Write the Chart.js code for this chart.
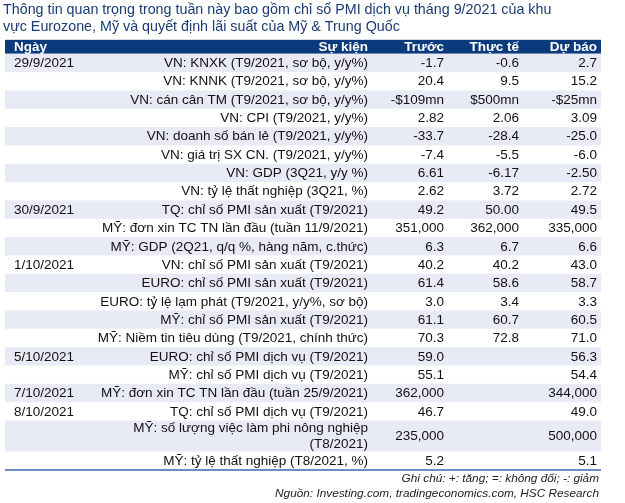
<!DOCTYPE html>
<html>
<head>
<meta charset="utf-8">
<script src="https://cdn.jsdelivr.net/npm/chart.js@4.4.0/dist/chart.umd.min.js"></script>
<style>
  html, body { margin: 0; padding: 0; background: #fff; }
  #wrap { width: 625px; height: 503px; }
</style>
</head>
<body>
<div id="wrap"><canvas id="table"></canvas></div>
<script>
const titleLines = [
    'Thông tin quan trọng trong tuần này bao gồm chỉ số PMI dịch vụ tháng 9/2021 của khu',
    'vực Eurozone, Mỹ và quyết định lãi suất của Mỹ & Trung Quốc',
];
const headers = ['Ngày', 'Sự kiện', 'Trước', 'Thực tế', 'Dự báo'];
const dates = [
    '29/9/2021', '', '', '', '', '', '', '',
    '30/9/2021', '', '',
    '1/10/2021', '', '', '', '',
    '5/10/2021', '',
    '7/10/2021',
    '8/10/2021', '', '',
];
const events = [
    'VN: KNXK (T9/2021, sơ bộ, y/y%)',
    'VN: KNNK (T9/2021, sơ bộ, y/y%)',
    'VN: cán cân TM (T9/2021, sơ bộ, y/y%)',
    'VN: CPI (T9/2021, y/y%)',
    'VN: doanh số bán lẻ (T9/2021, y/y%)',
    'VN: giá trị SX CN. (T9/2021, y/y%)',
    'VN: GDP (3Q21, y/y %)',
    'VN: tỷ lệ thất nghiệp (3Q21, %)',
    'TQ: chỉ số PMI sản xuất (T9/2021)',
    'MỸ: đơn xin TC TN lần đầu (tuần 11/9/2021)',
    'MỸ: GDP (2Q21, q/q %, hàng năm, c.thức)',
    'VN: chỉ số PMI sản xuất (T9/2021)',
    'EURO: chỉ số PMI sản xuất (T9/2021)',
    'EURO: tỷ lệ lạm phát (T9/2021, y/y%, sơ bộ)',
    'MỸ: chỉ số PMI sản xuất (T9/2021)',
    'MỸ: Niềm tin tiêu dùng (T9/2021, chính thức)',
    'EURO: chỉ số PMI dịch vụ (T9/2021)',
    'MỸ: chỉ số PMI dịch vụ (T9/2021)',
    'MỸ: đơn xin TC TN lần đầu (tuần 25/9/2021)',
    'TQ: chỉ số PMI dịch vụ (T9/2021)',
    'MỸ: số lượng việc làm phi nông nghiệp\n(T8/2021)',
    'MỸ: tỷ lệ thất nghiệp (T8/2021, %)',
];
const prior = [
    '-1.7', '20.4', '-$109mn', '2.82', '-33.7', '-7.4', '6.61', '2.62',
    '49.2', '351,000', '6.3',
    '40.2', '61.4', '3.0', '61.1', '70.3',
    '59.0', '55.1',
    '362,000',
    '46.7', '235,000', '5.2',
];
const actual = [
    '-0.6', '9.5', '$500mn', '2.06', '-28.4', '-5.5', '-6.17', '3.72',
    '50.00', '362,000', '6.7',
    '40.2', '58.6', '3.4', '60.7', '72.8',
    '', '',
    '',
    '', '', '',
];
const forecast = [
    '2.7', '15.2', '-$25mn', '3.09', '-25.0', '-6.0', '-2.50', '2.72',
    '49.5', '335,000', '6.6',
    '43.0', '58.7', '3.3', '60.5', '71.0',
    '56.3', '54.4',
    '344,000',
    '49.0', '500,000', '5.1',
];
const notes = [
    'Ghi chú: +: tăng; =: không đổi; -: giảm',
    'Nguồn: Investing.com, tradingeconomics.com, HSC Research',
];

// layout, in scale units
const FONT = '"Liberation Sans", Arial, sans-serif';
const headerH = 0.76;
const extraLine = 0.7;
const footerH = 1.8;
const tableW = 596;
const colDate = 9;
const colRight = [363, 439, 514, 592];

const rowH = events.map(e => 1 + extraLine * (e.split('\n').length - 1));
const rowTop = [];
rowH.reduce((acc, h) => { rowTop.push(acc); return acc + h; }, headerH);
const tableH = headerH + rowH.reduce((a, b) => a + b, 0);

const tablePlugin = {
    id: 'tableCells',
    beforeDatasetsDraw(chart) {
        const { ctx, scales: { x, y } } = chart;
        const px = v => x.getPixelForValue(v);
        const py = v => y.getPixelForValue(v);
        const left = px(0), right = px(tableW);
        ctx.save();

        // header band
        ctx.fillStyle = '#0B3B7C';
        ctx.fillRect(left, py(0), right - left, py(headerH) - py(0));

        // zebra rows
        rowH.forEach((h, i) => {
            if (i % 2 === 0) {
                ctx.fillStyle = '#E8EBF5';
                ctx.fillRect(left, py(rowTop[i]), right - left, py(rowTop[i] + h) - py(rowTop[i]));
            }
        });

        ctx.textBaseline = 'middle';
        ctx.font = 'bold 13.5px ' + FONT;
        ctx.fillStyle = '#ffffff';
        const hy = py(headerH / 2) + 0.5;
        ctx.textAlign = 'left';
        ctx.fillText(headers[0], px(colDate), hy);
        ctx.textAlign = 'right';
        headers.slice(1).forEach((t, j) => ctx.fillText(t, px(colRight[j]), hy));

        ctx.font = '13.5px ' + FONT;
        ctx.fillStyle = '#111111';
        events.forEach((ev, i) => {
            const cy = py(rowTop[i] + rowH[i] / 2) + 0.5;
            ctx.textAlign = 'left';
            ctx.fillText(dates[i], px(colDate), cy);
            ctx.textAlign = 'right';
            const lines = ev.split('\n');
            const gap = py(0.87) - py(0);
            lines.forEach((ln, k) => {
                ctx.fillText(ln, px(colRight[0]), cy + (k - (lines.length - 1) / 2) * gap);
            });
            [prior[i], actual[i], forecast[i]].forEach((v, j) => ctx.fillText(v, px(colRight[j + 1]), cy));
        });

        // bottom rule
        ctx.strokeStyle = '#3A69AC';
        ctx.lineWidth = 1.5;
        ctx.beginPath();
        ctx.moveTo(left, py(tableH));
        ctx.lineTo(right, py(tableH));
        ctx.stroke();

        // footnotes
        ctx.font = 'italic 11.8px ' + FONT;
        ctx.fillStyle = '#222222';
        ctx.textAlign = 'right';
        notes.forEach((n, k) => ctx.fillText(n, px(colRight[3] + 2), py(tableH + 0.5 + k * 0.82)));

        ctx.restore();
    },
};

new Chart(document.getElementById('table'), {
    type: 'scatter',
    data: { datasets: [{ data: [] }] },
    options: {
        responsive: true,
        maintainAspectRatio: false,
        animation: false,
        events: [],
        layout: { padding: { left: 3, right: 24, top: 0, bottom: 0 } },
        scales: {
            x: { display: false, min: -2, max: tableW },
            y: { display: false, min: 0, max: tableH + footerH, reverse: true },
        },
        plugins: {
            legend: { display: false },
            tooltip: { enabled: false },
            title: {
                display: true,
                text: titleLines,
                align: 'start',
                color: '#1A3C72',
                font: { family: FONT, size: 14.3, weight: 'normal', lineHeight: 1.2 },
                padding: { top: 1, bottom: 4.5 },
            },
        },
    },
    plugins: [tablePlugin],
});
</script>
</body>
</html>
